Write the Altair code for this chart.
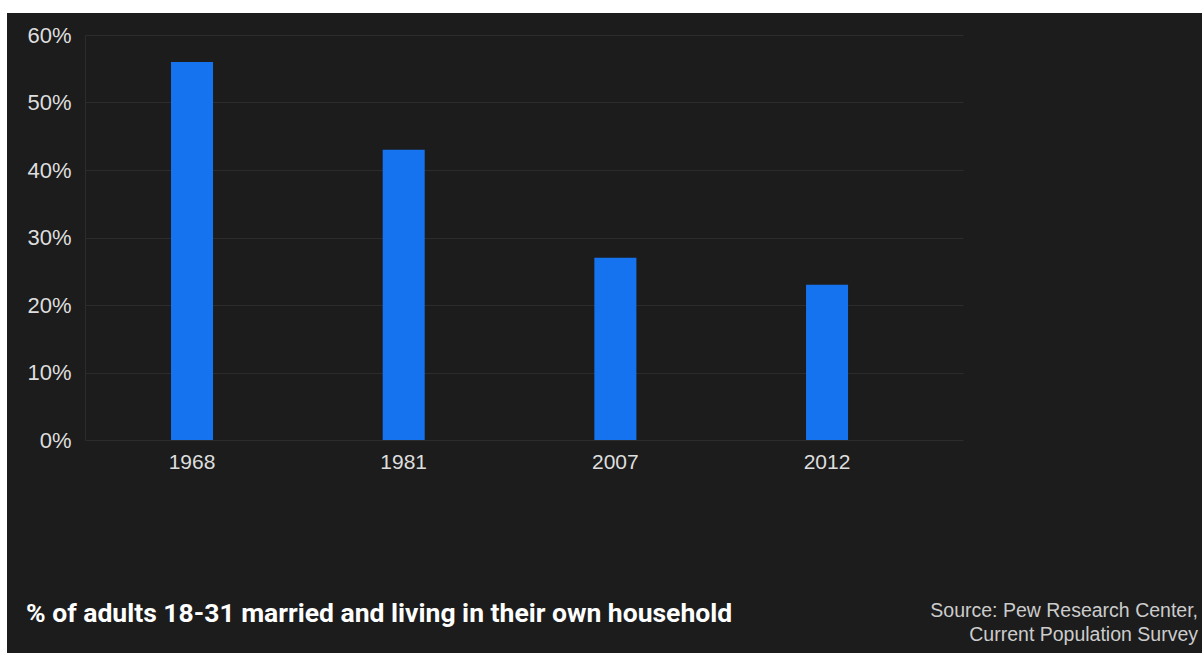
import altair as alt
import pandas as pd

years = ["1968", "1981", "2007", "2012"]
shares = [56, 43, 27, 23]
y_ticks = [0, 10, 20, 30, 40, 50, 60]
title_text = "% of adults 18-31 married and living in their own household"
source_text = "Source: Pew Research Center,\nCurrent Population Survey"

BG = "#1c1c1c"
GRID = "#2c2c2c"
BAR = "#1673f0"
LABEL = "#dedede"

W, H = 878, 405
PAD_L, PAD_T = 85, 35

df = pd.DataFrame({"year": years, "share": shares})
one = pd.DataFrame({"k": [0]})

bars = alt.Chart(df).mark_bar(color=BAR).encode(
    x=alt.X(
        "year:N",
        sort=years,
        title=None,
        scale=alt.Scale(paddingInner=0.8015, paddingOuter=0.4747, align=0.428),
        axis=alt.Axis(
            ticks=False, tickSize=0, domain=False, labelAngle=0,
            labelFont="Liberation Sans", labelFontSize=21, labelColor=LABEL,
            labelPadding=11, grid=False,
        ),
    ),
    y=alt.Y(
        "share:Q",
        title=None,
        scale=alt.Scale(domain=[0, 60], nice=False),
        axis=alt.Axis(
            values=y_ticks, labelExpr="datum.value + '%'",
            ticks=False, tickSize=0, domain=True, domainColor=GRID,
            grid=True, gridColor=GRID, gridWidth=1,
            labelFont="Liberation Sans", labelFontSize=22, labelColor=LABEL,
            labelPadding=14,
        ),
    ),
)

top_strip = alt.Chart(one).mark_rect(color="white").encode(
    x=alt.value(-PAD_L), x2=alt.value(1202 - PAD_L),
    y=alt.value(-PAD_T), y2=alt.value(-PAD_T + 13),
)
left_strip = alt.Chart(one).mark_rect(color="white").encode(
    x=alt.value(-PAD_L), x2=alt.value(-PAD_L + 7),
    y=alt.value(-PAD_T), y2=alt.value(653 - PAD_T),
)

title_mark = alt.Chart(one).mark_text(
    text=title_text, align="left", baseline="middle",
    font="Roboto", fontWeight="bold", fontSize=26.5, color="white",
).encode(x=alt.value(26 - PAD_L), y=alt.value(614 - PAD_T))

source_mark = alt.Chart(one).mark_text(
    text=source_text, lineBreak="\n", lineHeight=24, align="right", baseline="middle",
    font="Liberation Sans", fontSize=19.5, color="#cccccc",
).encode(x=alt.value(1198 - PAD_L), y=alt.value(611 - PAD_T))

chart = alt.layer(bars, top_strip, left_strip, title_mark, source_mark).properties(
    width=W, height=H,
    background=BG,
    autosize=alt.AutoSizeParams(type="none"),
    padding={"left": PAD_L, "top": PAD_T, "right": 1202 - PAD_L - W, "bottom": 653 - PAD_T - H},
).configure_view(stroke=None)

chart.save("out.html", embed_options={"renderer": "svg", "actions": False})
